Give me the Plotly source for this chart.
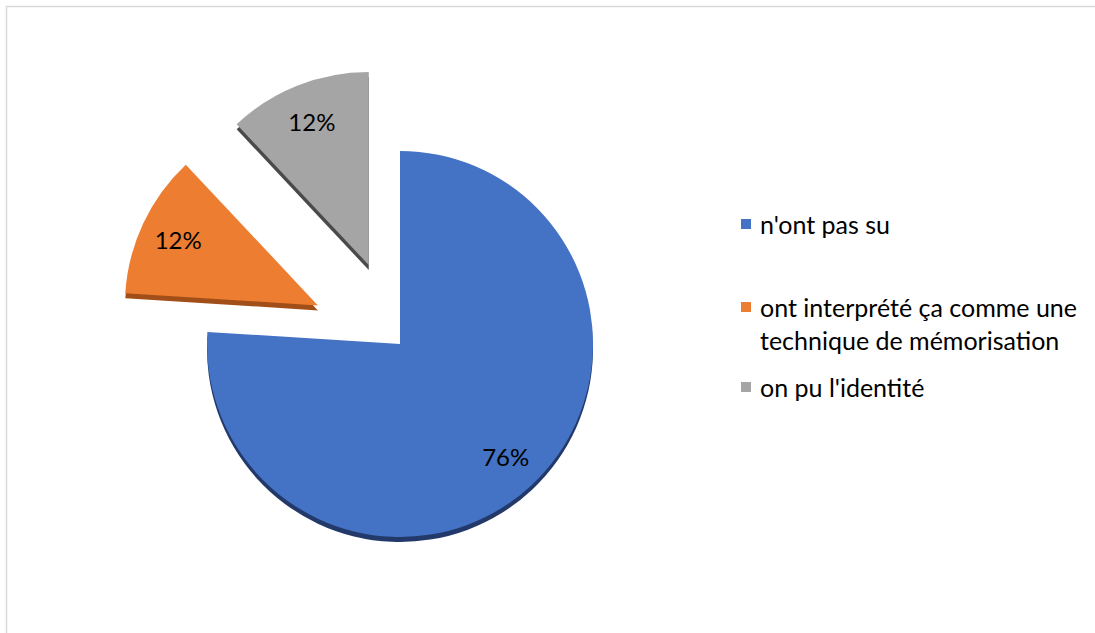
import plotly.graph_objects as go

# Survey answers and their shares (%)
labels = [
    "n'ont pas su",
    "ont interprété ça comme une<br>technique de mémorisation",
    "on pu l'identité",
]
values = [76, 12, 12]
colors = ["#4472C4", "#ED7D31", "#A5A5A5"]
side_colors = ["#22396A", "#A24E18", "#4A4A4A"]
pulls = [0, 0.47, 0.44]

W, H = 1095, 633
cx, cy = 400, 344          # pie centre in pixels
radius = 193
depth = 5                  # thickness of the extruded side
box = radius * (2 + 2 * max(pulls))
FONT = "Lato"


def domain(center_x, center_y):
    return dict(
        x=[(center_x - box / 2) / W, (center_x + box / 2) / W],
        y=[max(0, 1 - (center_y + box / 2) / H), 1 - (center_y - box / 2) / H],
    )


common = dict(labels=labels, values=values, sort=False, direction="clockwise",
              rotation=0, pull=pulls, showlegend=False)

fig = go.Figure()

# darker copy underneath, shifted down, gives the slices some depth
fig.add_trace(go.Pie(
    **common, domain=domain(cx, cy + depth),
    marker=dict(colors=side_colors, line=dict(width=0)),
    textinfo="none", hoverinfo="skip",
))

# visible slices
fig.add_trace(go.Pie(
    **common, domain=domain(cx, cy),
    marker=dict(colors=colors, line=dict(width=0)),
    textinfo="none", hoverinfo="label+percent",
))

# transparent ring carrying the percentage labels near the outer edge
fig.add_trace(go.Pie(
    **common, domain=domain(cx, cy), hole=0.6,
    marker=dict(colors=["rgba(0,0,0,0)"] * len(values), line=dict(width=0)),
    textinfo="percent", textposition="inside",
    insidetextorientation="horizontal",
    textfont=dict(family=FONT, size=24, color="#000000"),
    hoverinfo="skip",
))

# legend: square swatch + text for each answer
legend_rows = [224, 307, 387]     # swatch centres (px from top)
line_h = 32.5
shapes = [dict(
    type="rect", xref="paper", yref="paper",
    x0=6.5 / W, x1=1.2, y0=-0.2, y1=1 - 6.5 / H,
    line=dict(color="#D9D9D9", width=1.5), layer="below",
)]
annotations = []
for lab, col, row in zip(labels, colors, legend_rows):
    shapes.append(dict(
        type="rect", xref="paper", yref="paper",
        x0=741 / W, x1=751 / W, y0=1 - (row + 5) / H, y1=1 - (row - 5) / H,
        fillcolor=col, line=dict(width=0),
    ))
    n_lines = lab.count("<br>") + 1
    mid = row + (n_lines - 1) * line_h / 2
    annotations.append(dict(
        text=lab, xref="paper", yref="paper", x=758 / W, y=1 - mid / H,
        xanchor="left", yanchor="middle", align="left", showarrow=False,
        font=dict(family=FONT, size=25, color="#000000"),
    ))

fig.update_layout(
    width=W, height=H,
    margin=dict(l=0, r=0, t=0, b=0),
    paper_bgcolor="white", plot_bgcolor="white",
    font=dict(family=FONT, color="#000000"),
    showlegend=False,
    shapes=shapes,
    annotations=annotations,
)

fig.write_html("out.html")
